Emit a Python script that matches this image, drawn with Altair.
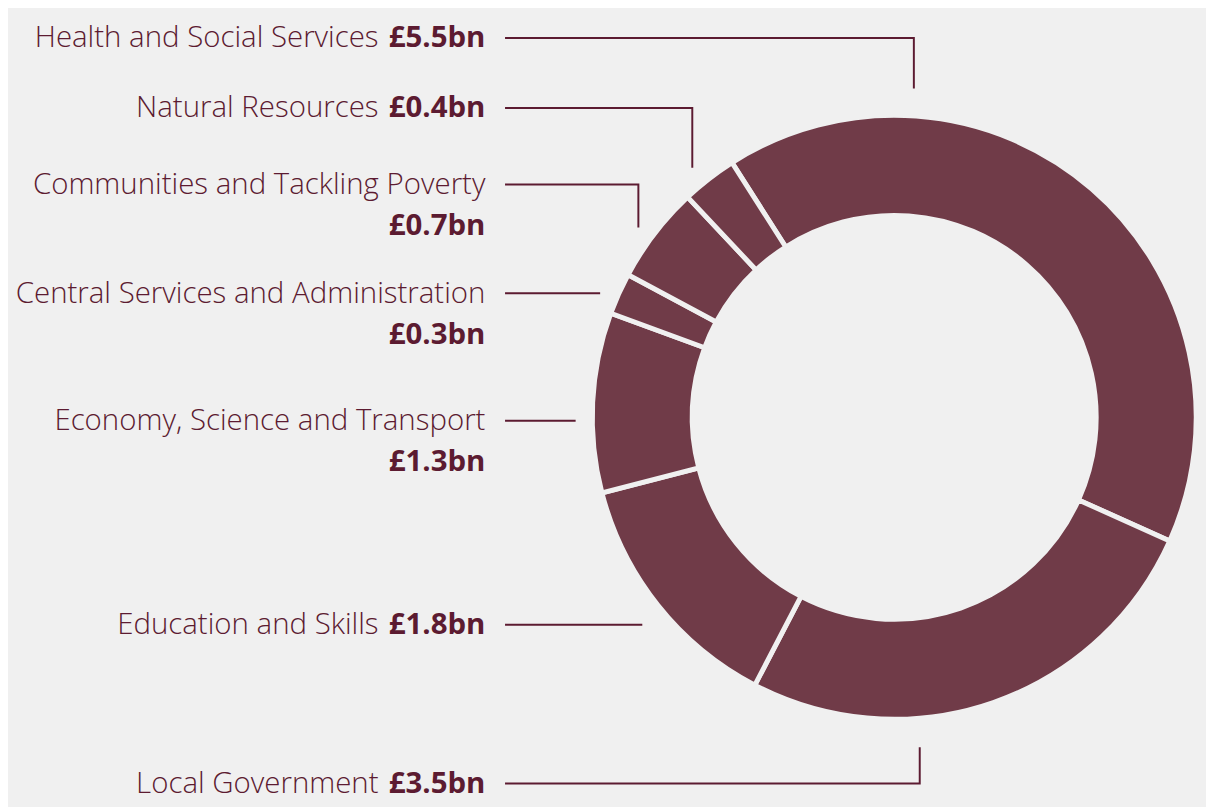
import math
import altair as alt
import pandas as pd

# ---- data ----
categories = [
    "Health and Social Services",
    "Local Government",
    "Education and Skills",
    "Economy, Science and Transport",
    "Central Services and Administration",
    "Communities and Tackling Poverty",
    "Natural Resources",
]
values = [5.5, 3.5, 1.8, 1.3, 0.3, 0.7, 0.4]
value_labels = ["£5.5bn", "£3.5bn", "£1.8bn", "£1.3bn", "£0.3bn", "£0.7bn", "£0.4bn"]

# ---- layout (pixel positions of labels and leader lines) ----
line_y = [30.7, 791, 629, 421, 291, 180, 102]
elbow_x = [932, 938, 655, 587, 612, 651, 706]
end_y = [82, 754, 629, 421, 291, 224, 163]
two_line = [False, False, False, True, True, True, False]

BG = "#f0f0f0"
DONUT = "#703b48"
TEXT = "#5c1b31"
FONT = "Open Sans"
FS = 30
LINE_X0 = 515
TEXT_RIGHT = 495
NAME_RIGHT_SINGLE = 386
CX, CY = 912, 417.5
R_OUT, R_IN = 308, 206
START = 2 * math.pi - math.radians(32.5)

W, H = 1198, 793
xs = alt.Scale(domain=[8, 8 + W], nice=False, zero=False)
ys = alt.Scale(domain=[8, 8 + H], nice=False, zero=False, reverse=True)

arc_df = pd.DataFrame({"cat": categories, "value": values, "idx": list(range(len(values)))})

arc = alt.Chart(arc_df).mark_arc(
    innerRadius=R_IN, outerRadius=R_OUT, stroke=BG, strokeWidth=5, color=DONUT
).encode(
    theta=alt.Theta("value:Q", stack=True, scale=alt.Scale(range=[START, START + 2 * math.pi])),
    order=alt.Order("idx:Q"),
    x=alt.value(CX - 8),
    y=alt.value(CY - 8),
)

# leader lines
rows = []
for i, c in enumerate(categories):
    pts = [(LINE_X0, line_y[i]), (elbow_x[i], line_y[i])]
    if end_y[i] != line_y[i]:
        pts.append((elbow_x[i], end_y[i]))
    for k, (px, py) in enumerate(pts):
        rows.append({"cat": c, "k": k, "px": px, "py": py})
lines_df = pd.DataFrame(rows)

lines = alt.Chart(lines_df).mark_line(color=TEXT, strokeWidth=2, strokeCap="butt", strokeJoin="miter").encode(
    x=alt.X("px:Q", scale=xs, axis=None),
    y=alt.Y("py:Q", scale=ys, axis=None),
    detail="cat:N",
    order="k:Q",
)

# text
name_rows, val_rows = [], []
for i, c in enumerate(categories):
    base = line_y[i] + 9.5
    if two_line[i]:
        name_rows.append({"t": c, "tx": TEXT_RIGHT, "ty": base})
        val_rows.append({"t": value_labels[i], "tx": TEXT_RIGHT, "ty": base + 42})
    else:
        name_rows.append({"t": c, "tx": NAME_RIGHT_SINGLE, "ty": base})
        val_rows.append({"t": value_labels[i], "tx": TEXT_RIGHT, "ty": base})

names = alt.Chart(pd.DataFrame(name_rows)).mark_text(
    align="right", baseline="alphabetic", font=FONT, fontSize=FS, fontWeight=300, color=TEXT
).encode(
    x=alt.X("tx:Q", scale=xs, axis=None),
    y=alt.Y("ty:Q", scale=ys, axis=None),
    text="t:N",
)
vals = alt.Chart(pd.DataFrame(val_rows)).mark_text(
    align="right", baseline="alphabetic", font=FONT, fontSize=FS, fontWeight="bold", color=TEXT
).encode(
    x=alt.X("tx:Q", scale=xs, axis=None),
    y=alt.Y("ty:Q", scale=ys, axis=None),
    text="t:N",
)

chart = alt.layer(lines, names, vals, arc).properties(
    width=W, height=H, background=BG, padding=0
).configure_view(stroke=None)

chart.save("out.html", embed_options={"renderer": "svg", "actions": False})
